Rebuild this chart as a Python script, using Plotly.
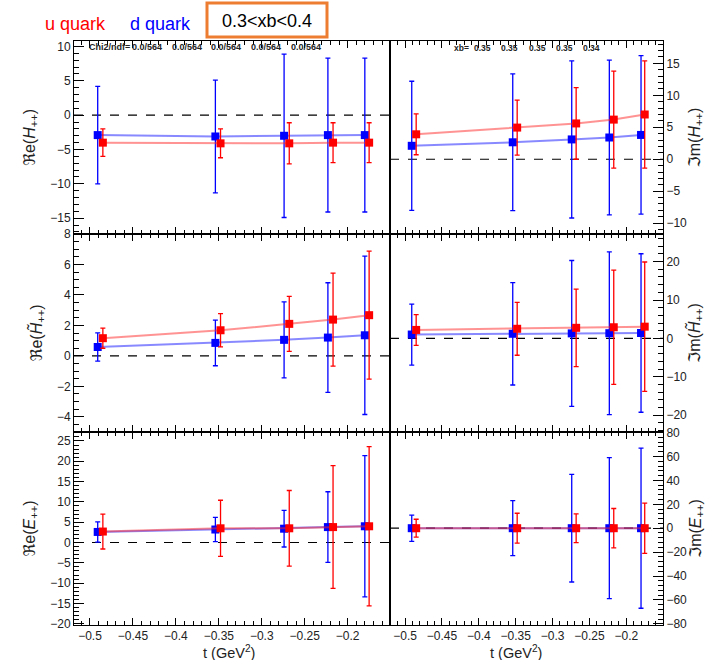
import plotly.graph_objects as go

# t values of the points (d quark drawn slightly left of u quark)
t_d = [-0.491, -0.354, -0.274, -0.223, -0.180]
t_u = [-0.485, -0.348, -0.268, -0.217, -0.175]

# Re(H++)
reH_d = [-2.9, -3.1, -3.0, -2.9, -2.9]
reH_d_err = [7.1, 8.2, 11.9, 11.2, 11.2]
reH_u = [-4.0, -4.1, -4.1, -4.0, -4.0]
reH_u_err = [2.0, 2.1, 3.0, 2.9, 2.9]

# Im(H++)
imH_d = [2.1, 2.65, 3.1, 3.4, 3.8]
imH_d_err = [10.1, 10.7, 12.3, 12.1, 12.4]
imH_u = [3.9, 4.95, 5.6, 6.2, 7.0]
imH_u_err = [3.2, 4.3, 5.6, 7.6, 8.4]

# Re(Htilde++)
reHt_d = [0.58, 0.85, 1.05, 1.2, 1.35]
reHt_d_err = [0.93, 1.5, 2.5, 3.6, 5.2]
reHt_u = [1.16, 1.68, 2.1, 2.38, 2.67]
reHt_u_err = [0.66, 1.09, 1.8, 3.05, 4.2]

# Im(Htilde++)
imHt_d = [1.0, 1.2, 1.3, 1.35, 1.4]
imHt_d_err = [7.95, 13.35, 19.0, 21.2, 20.65]
imHt_u = [2.2, 2.5, 2.75, 2.9, 3.05]
imHt_u_err = [4.0, 6.9, 10.1, 14.9, 16.85]

# Re(E++)
reE_d = [2.6, 3.2, 3.4, 3.8, 4.0]
reE_d_err = [2.5, 3.0, 4.5, 8.7, 17.4]
reE_u = [2.7, 3.5, 3.5, 3.8, 4.0]
reE_u_err = [4.3, 6.9, 9.3, 15.1, 19.6]

# Im(E++)
imE_d = [0.0, 0.0, 0.0, 0.0, 0.0]
imE_d_err = [11.0, 23.0, 45.0, 59.0, 67.0]
imE_u = [0.0, 0.0, 0.0, 0.0, 0.0]
imE_u_err = [7.5, 12.5, 12.0, 16.5, 21.0]

chi2_labels = ["0.0/564", "0.0/564", "0.0/564", "0.0/564", "0.0/564"]
xb_labels = ["0.35", "0.35", "0.35", "0.35", "0.34"]

W, H = 719, 660


def px(x):
    return x / W


def py(y):
    return 1 - y / H


FONT = "Liberation Sans, Arial, DejaVu Sans"
BLUE, RED = "#0000ff", "#ff0000"

# (row, col, y range, major, minor, title, d, d_err, u, u_err)
panels = [
    (0, 0, [-17.3, 10.8], 5, 1, "\u211ce(<i>H</i><sub>++</sub>)", reH_d, reH_d_err, reH_u, reH_u_err),
    (0, 1, [-11.7, 18.5], 5, 1, "\u2111m(<i>H</i><sub>++</sub>)", imH_d, imH_d_err, imH_u, imH_u_err),
    (1, 0, [-5.0, 8.0], 2, 0.5, "\u211ce(<i>H\u0303</i><sub>++</sub>)", reHt_d, reHt_d_err, reHt_u, reHt_u_err),
    (1, 1, [-24.4, 27.2], 10, 2, "\u2111m(<i>H\u0303</i><sub>++</sub>)", imHt_d, imHt_d_err, imHt_u, imHt_u_err),
    (2, 0, [-20.3, 27.2], 5, 1, "\u211ce(<i>E</i><sub>++</sub>)", reE_d, reE_d_err, reE_u, reE_u_err),
    (2, 1, [-81, 80.5], 20, 4, "\u2111m(<i>E</i><sub>++</sub>)", imE_d, imE_d_err, imE_u, imE_u_err),
]

col_x = [(74, 390), (390, 663)]
row_y = [(41, 234), (234, 432), (432, 625)]
x_ranges = [[-0.5186, -0.1507], [-0.5205, -0.1502]]
xtitle_x = [229, 516]

fig = go.Figure()
shapes = []

for i, (r, c, yr, dt, mdt, ytitle, d, de, u, ue) in enumerate(panels):
    n = "" if i == 0 else str(i + 1)
    xa, ya = "x" + n, "y" + n
    fig.add_trace(go.Scatter(
        x=t_d, y=d, xaxis=xa, yaxis=ya, mode="lines+markers",
        line=dict(color="rgba(40,40,255,0.55)", width=2),
        marker=dict(symbol="square", size=8, color=BLUE),
        error_y=dict(type="data", array=de, color=BLUE, thickness=1.3, width=2.5),
        showlegend=False))
    fig.add_trace(go.Scatter(
        x=t_u, y=u, xaxis=xa, yaxis=ya, mode="lines+markers",
        line=dict(color="rgba(255,40,40,0.5)", width=2),
        marker=dict(symbol="square", size=8, color=RED),
        error_y=dict(type="data", array=ue, color=RED, thickness=1.3, width=2.5),
        showlegend=False))

    x0, x1 = col_x[c]
    y0, y1 = row_y[r]
    fig.layout["xaxis" + n] = dict(
        domain=[px(x0), px(x1)], range=x_ranges[c], anchor=ya, automargin=False,
        dtick=0.05, tick0=-0.5, ticks="inside", ticklen=7, tickcolor="black",
        minor=dict(dtick=0.01, ticks="inside", ticklen=4, tickcolor="black"),
        showline=True, linecolor="black", linewidth=1, mirror="ticks",
        showgrid=False, zeroline=False, showticklabels=(r == 2),
        tickfont=dict(family=FONT, size=12, color="#222"),
    )
    fig.layout["yaxis" + n] = dict(
        domain=[py(y1), py(y0)], range=yr, anchor=xa, automargin=False,
        side="left" if c == 0 else "right",
        dtick=dt, ticks="inside", ticklen=10, tickcolor="black",
        minor=dict(dtick=mdt, ticks="inside", ticklen=5, tickcolor="black"),
        showline=True, linecolor="black", linewidth=1, mirror=True,
        showgrid=False, zeroline=False,
        tickfont=dict(family=FONT, size=12, color="#222"),
        title=dict(text=ytitle, font=dict(family=FONT, size=16, color="#222"),
                   standoff=10 if c == 0 else 2),
    )
    shapes.append(dict(type="line", xref=xa + " domain", yref=ya, x0=0, x1=1, y0=0, y1=0,
                       line=dict(color="black", width=1.2, dash="dash"), layer="below"))

# orange box around the xb bin label
shapes.append(dict(type="rect", xref="paper", yref="paper", x0=px(207), x1=px(327),
                   y0=py(37), y1=py(3), line=dict(color="#ED7D31", width=3)))

annotations = [
    dict(text="u quark", x=px(43), y=py(24), xanchor="left", yanchor="middle",
         font=dict(family=FONT, size=18, color=RED)),
    dict(text="d quark", x=px(128), y=py(24), xanchor="left", yanchor="middle",
         font=dict(family=FONT, size=18, color=BLUE)),
    dict(text="0.3&lt;xb&lt;0.4", x=px(267), y=py(21), xanchor="center", yanchor="middle",
         font=dict(family=FONT, size=18, color="black")),
    dict(text="<b>Chi2/ndf=</b>", x=px(87), y=py(47), xanchor="left", yanchor="middle",
         font=dict(family=FONT, size=9, color="#222")),
    dict(text="<b>xb=</b>", x=px(452), y=py(48), xanchor="left", yanchor="middle",
         font=dict(family=FONT, size=8.5, color="#222")),
]
for k, lab in enumerate(chi2_labels):
    annotations.append(dict(text="<b>" + lab + "</b>", x=px(130 + 39.7 * k), y=py(47),
                            xanchor="left", yanchor="middle",
                            font=dict(family=FONT, size=9, color="#222")))
for k, lab in enumerate(xb_labels):
    annotations.append(dict(text="<b>" + lab + "</b>", x=px(472 + 27.3 * k), y=py(48),
                            xanchor="left", yanchor="middle",
                            font=dict(family=FONT, size=8.5, color="#222")))
for xt in xtitle_x:
    annotations.append(dict(text="t (GeV<sup>2</sup>)", x=px(xt), y=py(651.5),
                            xanchor="center", yanchor="middle",
                            font=dict(family=FONT, size=14.5, color="#222")))
for a in annotations:
    a.update(xref="paper", yref="paper", showarrow=False)

fig.update_layout(
    width=W, height=H, margin=dict(l=0, r=0, t=0, b=0, autoexpand=False),
    paper_bgcolor="white", plot_bgcolor="white",
    shapes=shapes, annotations=annotations,
    font=dict(family=FONT),
)

page_fix = """
document.body.style.margin = '0';
document.body.style.overflow = 'hidden';
"""
fig.write_html("out.html", config={"displayModeBar": False}, post_script=page_fix)
